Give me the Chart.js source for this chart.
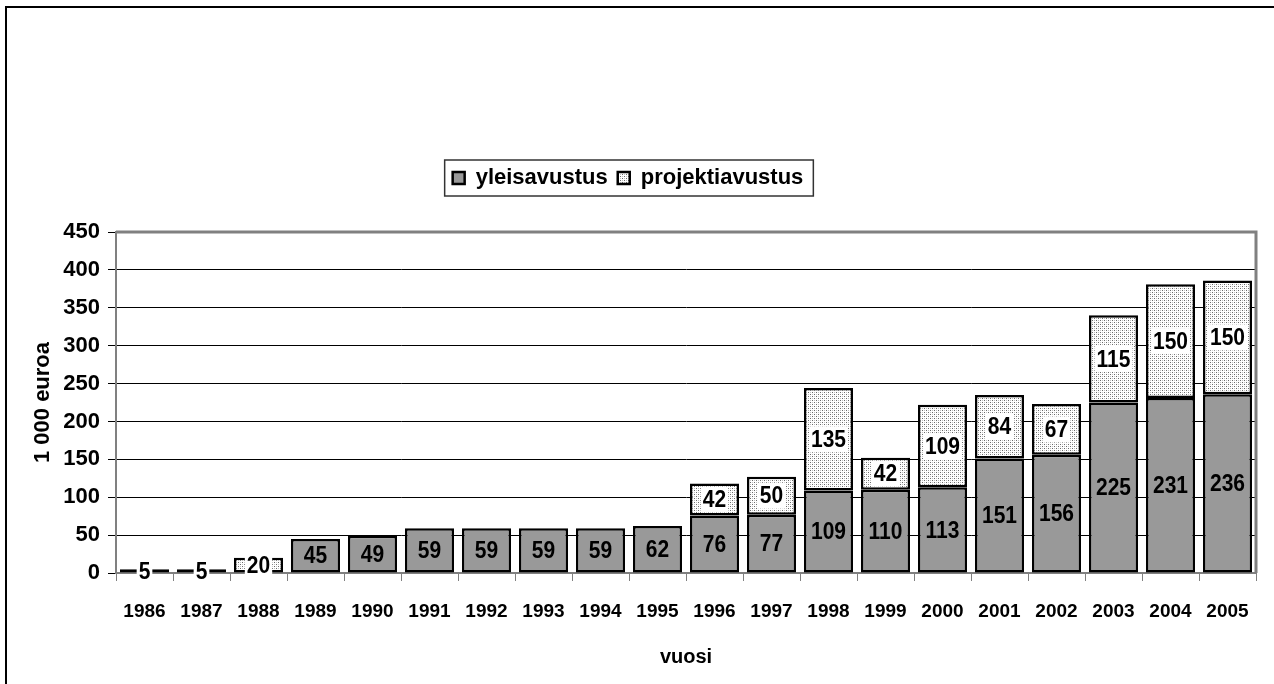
<!DOCTYPE html>
<html>
<head>
<meta charset="utf-8">
<script src="https://cdn.jsdelivr.net/npm/chart.js@4.4.1/dist/chart.umd.min.js"></script>
<style>
  html, body { margin: 0; padding: 0; background: #fff; }
  #wrap { width: 1274px; height: 684px; }
</style>
</head>
<body>
<div id="wrap"><canvas id="myChart" width="1274" height="684"></canvas></div>
<script>
// data
const years = [ '1986', '1987', '1988', '1989', '1990', '1991', '1992', '1993', '1994', '1995',
                '1996', '1997', '1998', '1999', '2000', '2001', '2002', '2003', '2004', '2005' ];
const yleisavustus = [ 5, 5, null, 45, 49, 59, 59, 59, 59, 62, 76, 77, 109, 110, 113, 151, 156, 225, 231, 236 ];
const projektiavustus = [ null, null, 20, null, null, null, null, null, null, null, 42, 50, 135, 42, 109, 84, 67, 115, 150, 150 ];
const yMin = 0, yMax = 450, yStep = 50;

const FONT = "'Liberation Sans', Arial, sans-serif";
Chart.defaults.font.family = FONT;
Chart.defaults.color = '#000';

// pisteviiva-kuvio projektiavustukselle
function makePattern() {
    const c = document.createElement( 'canvas' );
    c.width = 4; c.height = 4;
    const g = c.getContext( '2d' );
    g.fillStyle = '#fff';
    g.fillRect( 0, 0, 4, 4 );
    g.fillStyle = '#6a6a6a';
    g.fillRect( 0, 0, 1, 1 );
    g.fillRect( 2, 2, 1, 1 );
    g.fillStyle = '#c0c0c0';
    g.fillRect( 2, 0, 1, 1 );
    g.fillRect( 0, 2, 1, 1 );
    return g.createPattern( c, 'repeat' );
}

const ctx = document.getElementById( 'myChart' ).getContext( '2d' );
const dots = makePattern();

// tausta + ulkoreunus
const frame = {
    id: 'frame',
    beforeDraw( chart ) {
        const c = chart.ctx;
        c.save();
        c.fillStyle = '#fff';
        c.fillRect( 0, 0, chart.width, chart.height );
        c.strokeStyle = '#000';
        c.lineWidth = 2;
        c.beginPath();
        c.moveTo( 6, chart.height + 2 );
        c.lineTo( 6, 7 );
        c.lineTo( chart.width + 2, 7 );
        c.stroke();
        c.restore();
    },
    afterDraw( chart ) {
        const c = chart.ctx;
        const a = chart.chartArea;
        c.save();
        // piirtoalueen harmaa reunus
        c.strokeStyle = '#808080';
        c.lineWidth = 3;
        c.beginPath();
        c.moveTo( a.left, a.top );
        c.lineTo( a.right, a.top );
        c.lineTo( a.right, a.bottom );
        c.stroke();
        // selitteen kehys
        const boxes = chart.legend.legendHitBoxes;
        if ( boxes && boxes.length ) {
            const l = Math.min( ...boxes.map( b => b.left ) ) - 8;
            const r = Math.max( ...boxes.map( b => b.left + b.width ) ) + 10;
            const t = Math.min( ...boxes.map( b => b.top ) ) - 7;
            const btm = Math.max( ...boxes.map( b => b.top + b.height ) ) + 7;
            c.strokeStyle = '#333';
            c.lineWidth = 1.5;
            c.strokeRect( l, t, r - l, btm - t );
        }
        c.restore();
    }
};

// arvojen tekstit pylväiden keskelle
const valueLabels = {
    id: 'valueLabels',
    afterDatasetsDraw( chart ) {
        const c = chart.ctx;
        c.save();
        c.font = 'bold 21px ' + FONT;
        c.textAlign = 'center';
        c.textBaseline = 'middle';
        chart.data.datasets.forEach( ( ds, i ) => {
            const meta = chart.getDatasetMeta( i );
            meta.data.forEach( ( el, j ) => {
                const v = ds.data[ j ];
                if ( v === null || v === undefined ) return;
                const x = el.x;
                const y = ( el.y + el.base ) / 2;
                const txt = String( v );
                const w = c.measureText( txt ).width;
                if ( i === 1 || Math.abs( el.base - el.y ) < 22 ) {
                    c.fillStyle = '#fff';
                    c.fillRect( x - w / 2 - 2, y - 13, w + 4, 26 );
                }
                c.fillStyle = '#000';
                c.save();
                c.translate( x, y + 1 );
                c.scale( 1, 1.15 );
                c.fillText( txt, 0, 0 );
                c.restore();
            });
        });
        c.restore();
    }
};

// selitteen ja piirtoalueen väli
const legendGap = {
    id: 'legendGap',
    beforeInit( chart ) {
        const fit = chart.legend.fit;
        chart.legend.fit = function () {
            fit.bind( chart.legend )();
            this.height += 33;
        };
    }
};

new Chart( ctx, {
    type: 'bar',
    data: {
        labels: years,
        datasets: [
            {
                label: 'yleisavustus',
                data: yleisavustus,
                backgroundColor: '#999999',
                borderColor: '#000',
                borderWidth: 2.5,
                borderSkipped: false
            },
            {
                label: 'projektiavustus',
                data: projektiavustus,
                backgroundColor: dots,
                borderColor: '#000',
                borderWidth: 2.5,
                borderSkipped: false
            }
        ]
    },
    options: {
        responsive: false,
        animation: false,
        layout: { padding: { top: 157, right: 18, left: 0, bottom: 0 } },
        datasets: { bar: { barPercentage: 0.86, categoryPercentage: 1.0 } },
        plugins: {
            legend: {
                position: 'top',
                labels: {
                    boxWidth: 12,
                    boxHeight: 12,
                    padding: 10,
                    color: '#000',
                    font: { size: 22, weight: 'bold' }
                }
            },
            tooltip: { enabled: false }
        },
        scales: {
            x: {
                stacked: true,
                afterFit( scale ) { scale.height = 111; },
                grid: {
                    offset: true,
                    drawOnChartArea: false,
                    drawTicks: true,
                    tickLength: 8,
                    tickColor: '#808080'
                },
                border: { color: '#808080', width: 2 },
                ticks: {
                    padding: 19,
                    maxRotation: 0,
                    autoSkip: false,
                    color: '#000',
                    font: { size: 19, weight: 'bold' }
                },
                title: {
                    display: true,
                    text: 'vuosi',
                    color: '#000',
                    padding: { top: 0, bottom: 15 },
                    font: { size: 20, weight: 'bold' }
                }
            },
            y: {
                stacked: true,
                min: yMin,
                max: yMax,
                afterFit( scale ) { scale.width = 116; },
                grid: {
                    color: '#000',
                    lineWidth: 1,
                    tickLength: 8,
                    tickColor: '#000'
                },
                border: { color: '#808080', width: 2 },
                ticks: {
                    stepSize: yStep,
                    padding: 8,
                    color: '#000',
                    font: { size: 22, weight: 'bold' }
                },
                title: {
                    display: true,
                    text: '1 000 euroa',
                    color: '#000',
                    padding: { top: 30, bottom: 0 },
                    font: { size: 22, weight: 'bold' }
                }
            }
        }
    },
    plugins: [ frame, valueLabels, legendGap ]
});
</script>
</body>
</html>
